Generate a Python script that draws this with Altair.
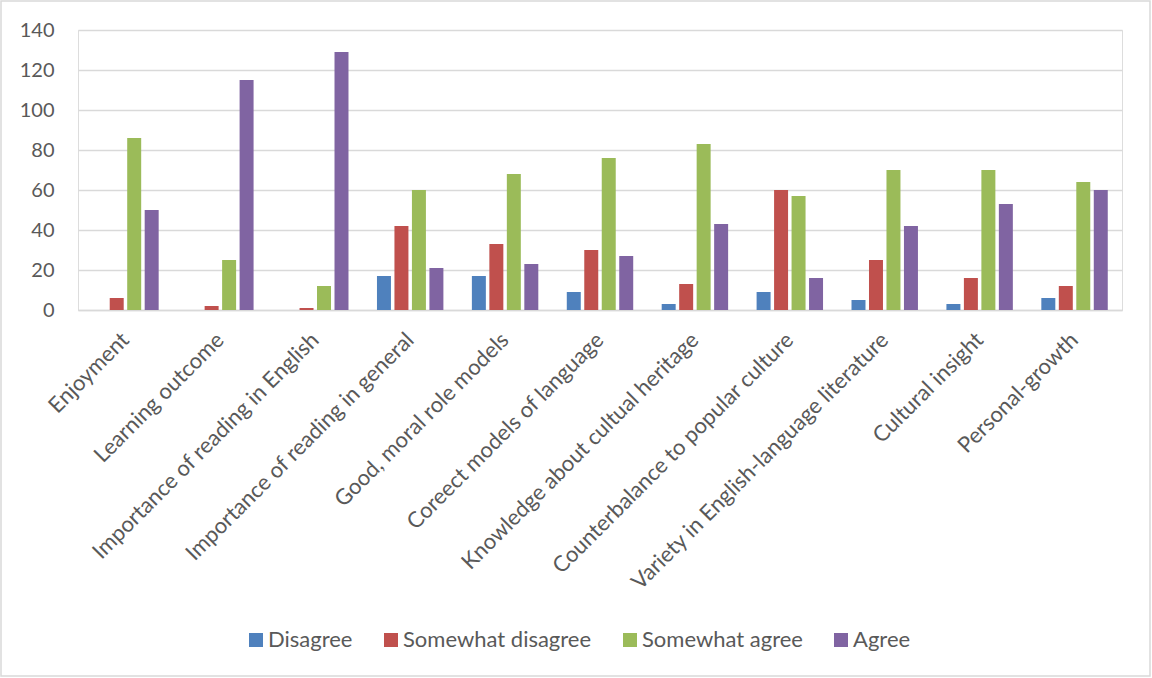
import altair as alt
import pandas as pd

categories = [
    "Enjoyment",
    "Learning outcome",
    "Importance of reading in English",
    "Importance of reading in general",
    "Good, moral role models",
    "Coreect models of language",
    "Knowledge about cultual heritage",
    "Counterbalance to popular culture",
    "Variety in English-language literature",
    "Cultural insight",
    "Personal-growth",
]
series = ["Disagree", "Somewhat disagree", "Somewhat agree", "Agree"]
disagree = [0, 0, 0, 17, 17, 9, 3, 9, 5, 3, 6]
somewhat_disagree = [6, 2, 1, 42, 33, 30, 13, 60, 25, 16, 12]
somewhat_agree = [86, 25, 12, 60, 68, 76, 83, 57, 70, 70, 64]
agree = [50, 115, 129, 21, 23, 27, 43, 16, 42, 53, 60]
colors = ["#4F81BD", "#C0504D", "#9BBB59", "#8064A2"]
y_ticks = [0, 20, 40, 60, 80, 100, 120, 140]

rows = []
for s, vals in zip(series, [disagree, somewhat_disagree, somewhat_agree, agree]):
    for c, v in zip(categories, vals):
        rows.append({"category": c, "series": s, "value": v})
df = pd.DataFrame(rows)

FONT = "Lato"
TXT = "#595959"
W, H = 1044, 280

bars = alt.Chart(df).mark_bar().encode(
    x=alt.X(
        "category:N",
        sort=categories,
        title=None,
        scale=alt.Scale(paddingInner=0.3, paddingOuter=0.15),
        axis=alt.Axis(
            labelAngle=-45,
            labelAlign="right",
            labelBaseline="middle",
            labelFontSize=22,
            labelColor=TXT,
            labelFont=FONT,
            labelPadding=26,
            ticks=False,
            domainColor="#D9D9D9",
            domainWidth=1.5,
            labelLimit=600,
        ),
    ),
    xOffset=alt.XOffset(
        "series:N", sort=series, scale=alt.Scale(paddingInner=0.2, paddingOuter=0)
    ),
    y=alt.Y(
        "value:Q",
        title=None,
        scale=alt.Scale(domain=[0, 140], nice=False),
        axis=alt.Axis(
            values=y_ticks,
            labelFontSize=20,
            labelColor=TXT,
            labelFont=FONT,
            labelPadding=24,
            ticks=False,
            domain=False,
            gridColor="#D9D9D9",
            gridWidth=1.5,
        ),
    ),
    color=alt.Color(
        "series:N",
        sort=series,
        scale=alt.Scale(domain=series, range=colors),
        legend=alt.Legend(
            title=None,
            orient="none",
            direction="horizontal",
            columns=4,
            legendX=167,
            legendY=599,
            symbolType="square",
            symbolSize=196,
            symbolStrokeWidth=0,
            labelFontSize=22,
            labelFont=FONT,
            labelColor=TXT,
            labelOffset=1,
            labelLimit=400,
            columnPadding=27,
        ),
    ),
)

border = alt.Chart(pd.DataFrame({"a": [0]})).mark_rect(
    fill=None, stroke="#D9D9D9", strokeWidth=1.5, clip=False
).encode(
    x=alt.value(-77),
    x2=alt.value(W + 28),
    y=alt.value(-29),
    y2=alt.value(H + 366),
)

chart = (
    alt.layer(border, bars)
    .properties(
        width=W,
        height=H,
        autosize=alt.AutoSizeParams(type="none"),
        padding={"left": 78, "top": 30, "right": 30, "bottom": 368},
    )
    .configure_view(stroke=None)
    .configure(background="white")
)

chart.save("out.html", embed_options={"renderer": "svg", "actions": False})
